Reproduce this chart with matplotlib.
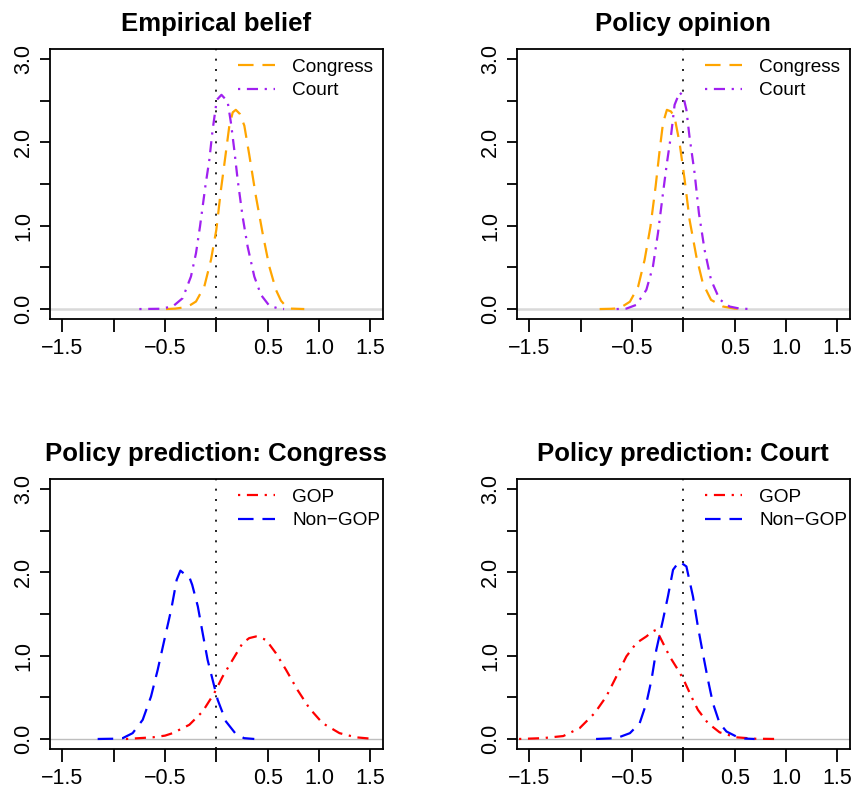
import numpy as np
import matplotlib
matplotlib.use("Agg")
import matplotlib.pyplot as plt

plt.rcParams['font.family'] = ['Liberation Sans', 'DejaVu Sans']

# values (density curves)
emp_congress_x = [-0.49, -0.40, -0.31, -0.25, -0.198, -0.117, -0.052, 0.0, 0.045, 0.088, 0.127, 0.16, 0.19,
                  0.23, 0.273, 0.321, 0.386, 0.451, 0.516, 0.581, 0.63, 0.68, 0.727, 0.857]
emp_congress_y = [0, 0.005, 0.02, 0.05, 0.09, 0.27, 0.59, 0.95, 1.43, 1.83, 2.2, 2.36, 2.39,
                  2.34, 2.2, 1.85, 1.35, 0.91, 0.51, 0.23, 0.1, 0.03, 0.005, 0]
emp_court_x = [-0.75, -0.55, -0.425, -0.328, -0.247, -0.198, -0.159, -0.107, -0.068, -0.036, 0.005, 0.05,
               0.11, 0.143, 0.175, 0.208, 0.256, 0.305, 0.37, 0.435, 0.516, 0.61, 0.66]
emp_court_y = [0, 0.003, 0.03, 0.13, 0.39, 0.67, 0.99, 1.47, 1.79, 2.15, 2.51, 2.57,
               2.49, 2.23, 1.91, 1.55, 1.11, 0.75, 0.39, 0.17, 0.04, 0.005, 0]

op_congress_x = [-0.815, -0.70, -0.62, -0.52, -0.44, -0.377, -0.32, -0.27, -0.23, -0.198, -0.16, -0.12,
                 -0.085, -0.036, 0.013, 0.061, 0.127, 0.19, 0.27, 0.386, 0.5, 0.6]
op_congress_y = [0, 0.003, 0.01, 0.088, 0.27, 0.59, 0.99, 1.47, 1.91, 2.23, 2.39, 2.37,
                 2.3, 1.99, 1.55, 1.07, 0.63, 0.31, 0.11, 0.03, 0.005, 0]
op_court_x = [-0.65, -0.555, -0.458, -0.36, -0.296, -0.247, -0.198, -0.16, -0.117, -0.085, -0.036, 0.0,
              0.03, 0.06, 0.11, 0.152, 0.207, 0.27, 0.353, 0.45, 0.55, 0.66]
op_court_y = [0, 0.005, 0.05, 0.23, 0.51, 0.91, 1.39, 1.75, 2.11, 2.45, 2.6, 2.55,
              2.39, 2.07, 1.63, 1.15, 0.71, 0.35, 0.116, 0.03, 0.005, 0]

pc_gop_x = [-0.88, -0.75, -0.62, -0.5, -0.425, -0.263, -0.133, -0.02, 0.062, 0.159, 0.256, 0.32, 0.386,
            0.484, 0.58, 0.679, 0.79, 0.906, 1.035, 1.2, 1.36, 1.54]
pc_gop_y = [0, 0.01, 0.02, 0.04, 0.07, 0.17, 0.33, 0.55, 0.75, 0.95, 1.15, 1.21, 1.23,
            1.19, 1.03, 0.83, 0.59, 0.37, 0.19, 0.07, 0.02, 0]
pc_non_x = [-1.156, -1.0, -0.912, -0.815, -0.717, -0.636, -0.571, -0.506, -0.44, -0.386, -0.35, -0.30,
            -0.265, -0.235, -0.18, -0.133, -0.085, -0.036, 0.013, 0.094, 0.19, 0.27, 0.37]
pc_non_y = [0, 0.003, 0.01, 0.07, 0.23, 0.51, 0.83, 1.19, 1.55, 1.91, 2.02, 1.97,
            1.95, 1.85, 1.59, 1.27, 0.95, 0.71, 0.47, 0.21, 0.06, 0.01, 0]

ct_gop_x = [-1.6, -1.37, -1.17, -1.01, -0.864, -0.75, -0.652, -0.555, -0.458, -0.36, -0.3, -0.263,
            -0.214, -0.133, -0.052, 0.0, 0.078, 0.142, 0.24, 0.353, 0.516, 0.7, 0.92]
ct_gop_y = [0, 0.01, 0.035, 0.13, 0.31, 0.51, 0.75, 0.99, 1.15, 1.23, 1.29, 1.31,
            1.19, 0.99, 0.83, 0.72, 0.51, 0.35, 0.19, 0.08, 0.02, 0.003, 0]
ct_non_x = [-0.85, -0.65, -0.52, -0.425, -0.36, -0.31, -0.263, -0.198, -0.15, -0.1, -0.04, 0.03,
            0.094, 0.142, 0.19, 0.24, 0.288, 0.353, 0.42, 0.516, 0.6, 0.694]
ct_non_y = [0, 0.01, 0.07, 0.19, 0.43, 0.71, 1.07, 1.43, 1.71, 2.03, 2.13, 2.07,
            1.71, 1.35, 1.03, 0.71, 0.43, 0.19, 0.09, 0.03, 0.005, 0]

titles = ["Empirical belief", "Policy opinion",
          "Policy prediction: Congress", "Policy prediction: Court"]
x_ticks = [-1.5, -1.0, -0.5, 0.0, 0.5, 1.0, 1.5]
x_labels = ["\u22121.5", "", "\u22120.5", "", "0.5", "1.0", "1.5"]
y_ticks = [0, 0.5, 1.0, 1.5, 2.0, 2.5, 3.0]
y_labels = ["0.0", "", "1.0", "", "2.0", "", "3.0"]

DASHED = (0, (7, 4))
DASHDOT = (0, (1, 3, 5, 3))

fig = plt.figure(figsize=(8.55, 7.94), dpi=100)
positions = [(0.0585, 0.5982), (0.6047, 0.5982), (0.0585, 0.0567), (0.6047, 0.0567)]
w, h = 0.3890, 0.3401

panels = [
    [(emp_congress_x, emp_congress_y, "orange", DASHED, "Congress"),
     (emp_court_x, emp_court_y, "#A020F0", DASHDOT, "Court")],
    [(op_congress_x, op_congress_y, "orange", DASHED, "Congress"),
     (op_court_x, op_court_y, "#A020F0", DASHDOT, "Court")],
    [(pc_gop_x, pc_gop_y, "red", DASHDOT, "GOP"),
     (pc_non_x, pc_non_y, "blue", DASHED, "Non\u2212GOP")],
    [(ct_gop_x, ct_gop_y, "red", DASHDOT, "GOP"),
     (ct_non_x, ct_non_y, "blue", DASHED, "Non\u2212GOP")],
]

for i, (pos, series) in enumerate(zip(positions, panels)):
    ax = fig.add_axes([pos[0], pos[1], w, h])
    top = i < 2
    ax.axhline(0, color="#D9D9D9" if top else "#BEBEBE", lw=1.8 if top else 1.0, zorder=1)
    for xs, ys, col, ls, lab in series:
        ax.plot(xs, ys, color=col, linestyle=ls, lw=1.6, label=lab, zorder=3)
    ax.axvline(0, color="black", lw=1.2, linestyle=(0, (1.2, 5)), zorder=2)
    ax.set_xlim(-1.62, 1.62)
    ax.set_ylim(-0.12, 3.12)
    ax.set_xticks(x_ticks)
    ax.set_xticklabels(x_labels)
    ax.set_yticks(y_ticks)
    ax.set_yticklabels(y_labels, rotation=90, va="center")
    ax.tick_params(axis="x", length=9.5, width=1.3, pad=4, labelsize=15.5)
    ax.tick_params(axis="y", length=7.5, width=1.3, pad=4, labelsize=15.5)
    for s in ax.spines.values():
        s.set_linewidth(1.3)
    ax.set_title(titles[i], fontsize=18.5, fontweight="bold", pad=13)
    ax.legend(loc="upper left", bbox_to_anchor=(0.565, 0.964), frameon=False,
              fontsize=13.7, handlelength=1.95, handletextpad=0.9,
              borderpad=0, borderaxespad=0, labelspacing=0.32)

fig.savefig("out.png", dpi=100)
